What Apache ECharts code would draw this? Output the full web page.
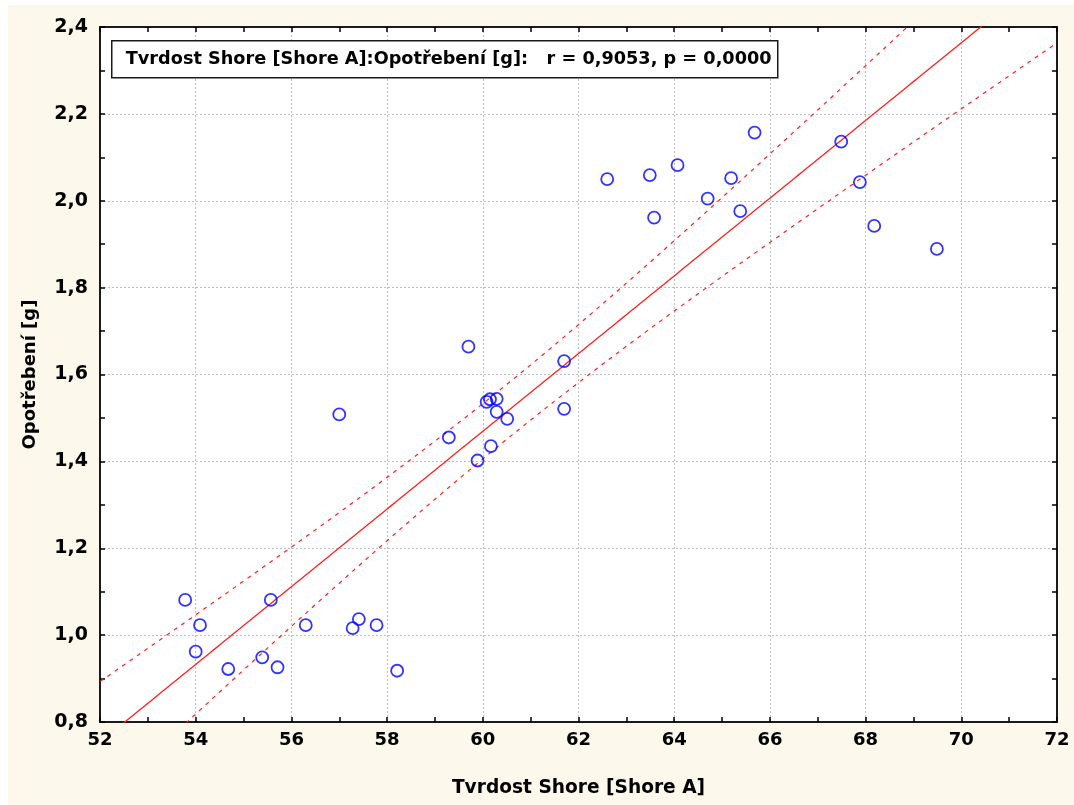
<!DOCTYPE html>
<html>
<head>
<meta charset="utf-8">
<script src="https://cdn.jsdelivr.net/npm/echarts@6/dist/echarts.min.js"></script>
<style>
  html, body { margin: 0; padding: 0; background: #ffffff; }
  #panel { position: absolute; left: 8px; top: 5px; right: 0; bottom: 0; background: #fdf8ec; }
  #chart { position: absolute; left: 0; top: 0; width: 1074px; height: 805px; }
</style>
</head>
<body>
<div id="panel"></div>
<div id="chart"></div>
<script>
// Shore A hardness vs. abrasion wear of the tested samples
const hardness = [53.78, 54.09, 54.00, 54.68, 55.57, 55.39, 55.71, 56.30, 57.28, 57.41, 57.78, 58.21,
                  57.00, 59.29, 59.70, 59.89, 60.08, 60.15, 60.29, 60.29, 60.51, 60.17, 61.70, 61.70,
                  62.60, 63.49, 63.58, 64.07, 64.70, 65.19, 65.38, 65.68, 67.49, 67.88, 68.18, 69.49];
const wear     = [1.081, 1.023, 0.962, 0.922, 1.081, 0.949, 0.926, 1.023, 1.016, 1.037, 1.023, 0.918,
                  1.508, 1.455, 1.664, 1.402, 1.537, 1.543, 1.544, 1.514, 1.498, 1.435, 1.631, 1.521,
                  2.050, 2.059, 1.961, 2.082, 2.005, 2.052, 1.976, 2.157, 2.136, 2.043, 1.942, 1.889];

const xTitle = 'Tvrdost Shore [Shore A]';
const yTitle = 'Opotřebení [g]';
const statText = 'Tvrdost Shore [Shore A]:Opotřebení [g]:   r = 0,9053, p = 0,0000';
const xRange = [52, 72];
const yRange = [0.8, 2.4];
const tCrit = 2.032; // Student t, 0.975 quantile, 34 degrees of freedom

// least-squares fit and 95% confidence band of the regression line
const n = hardness.length;
const mx = hardness.reduce((a, b) => a + b, 0) / n;
const my = wear.reduce((a, b) => a + b, 0) / n;
let sxx = 0, sxy = 0;
for (let i = 0; i < n; i++) {
  sxx += (hardness[i] - mx) ** 2;
  sxy += (hardness[i] - mx) * (wear[i] - my);
}
const slope = sxy / sxx;
const intercept = my - slope * mx;
let sse = 0;
for (let i = 0; i < n; i++) sse += (wear[i] - intercept - slope * hardness[i]) ** 2;
const se = Math.sqrt(sse / (n - 2));

const fitLine = [], upperBand = [], lowerBand = [];
for (let x = xRange[0]; x <= xRange[1] + 1e-9; x += 0.1) {
  const yh = intercept + slope * x;
  const h = tCrit * se * Math.sqrt(1 / n + (x - mx) ** 2 / sxx);
  fitLine.push([x, yh]);
  upperBand.push([x, yh + h]);
  lowerBand.push([x, yh - h]);
}
const points = hardness.map((x, i) => [x, wear[i]]);

const font = '"DejaVu Sans", Verdana, sans-serif';
const fmtDec = v => v.toFixed(1).replace('.', ',');

const chart = echarts.init(document.getElementById('chart'), null, { renderer: 'canvas' });

const tickCommon = { show: true, inside: true, length: 5, lineStyle: { color: '#000', width: 1.5 } };
const minorCommon = { show: true, splitNumber: 2, length: 5, lineStyle: { color: '#000', width: 1.5 } };

chart.setOption({
  animation: false,
  backgroundColor: 'transparent',
  grid: { left: 100, top: 27, right: 17, bottom: 83, show: true, backgroundColor: '#ffffff', borderWidth: 0 },
  xAxis: [{
    type: 'value', min: xRange[0], max: xRange[1], interval: 2,
    name: xTitle, nameLocation: 'middle', nameGap: 57,
    nameTextStyle: { fontFamily: font, fontWeight: 'bold', fontSize: 18.6, color: '#000' },
    axisLine: { show: true, onZero: false, lineStyle: { color: '#1a1a1a', width: 2 } },
    axisTick: tickCommon, minorTick: minorCommon,
    axisLabel: { fontFamily: font, fontWeight: 'bold', fontSize: 18, color: '#000', margin: 9 },
    splitLine: { show: true, lineStyle: { color: '#bdbdbd', type: [2, 2], width: 1 } }
  }, {
    type: 'value', min: xRange[0], max: xRange[1], interval: 2, position: 'top',
    axisLine: { show: true, onZero: false, lineStyle: { color: '#1a1a1a', width: 2 } },
    axisTick: tickCommon, minorTick: minorCommon,
    axisLabel: { show: false }, splitLine: { show: false }
  }],
  yAxis: [{
    type: 'value', min: yRange[0], max: yRange[1], interval: 0.2,
    name: yTitle, nameLocation: 'middle', nameGap: 61, nameRotate: 90,
    nameTextStyle: { fontFamily: font, fontWeight: 'bold', fontSize: 18, color: '#000' },
    axisLine: { show: true, onZero: false, lineStyle: { color: '#1a1a1a', width: 2 } },
    axisTick: tickCommon, minorTick: minorCommon,
    axisLabel: { fontFamily: font, fontWeight: 'bold', fontSize: 19, color: '#000', margin: 12, formatter: fmtDec },
    splitLine: { show: true, lineStyle: { color: '#bdbdbd', type: [2, 2], width: 1 } }
  }, {
    type: 'value', min: yRange[0], max: yRange[1], interval: 0.2, position: 'right',
    axisLine: { show: true, onZero: false, lineStyle: { color: '#1a1a1a', width: 2 } },
    axisTick: tickCommon, minorTick: minorCommon,
    axisLabel: { show: false }, splitLine: { show: false }
  }],
  series: [
    {
      type: 'line', data: upperBand, showSymbol: false, clip: true, silent: true,
      lineStyle: { color: '#ff2020', width: 1.2, type: [4, 5] }
    },
    {
      type: 'line', data: lowerBand, showSymbol: false, clip: true, silent: true,
      lineStyle: { color: '#ff2020', width: 1.2, type: [4, 5] }
    },
    {
      type: 'line', data: fitLine, showSymbol: false, clip: true, silent: true,
      lineStyle: { color: '#ff2020', width: 1.3 }
    },
    {
      type: 'scatter', data: points, symbol: 'circle', symbolSize: 12, z: 5,
      itemStyle: { color: 'rgba(255,255,255,0)', borderColor: '#0000ff', borderWidth: 1.8 }
    }
  ],
  graphic: [{
    type: 'group', left: 111, top: 40, z: 100, zlevel: 1,
    children: [
      { type: 'rect', shape: { x: 0, y: 0, width: 666, height: 37 }, z: 100, zlevel: 1,
        style: { fill: '#ffffff', stroke: '#1a1a1a', lineWidth: 1.5 } },
      { type: 'text', x: 14, y: 19, z: 101, zlevel: 1,
        style: { text: statText, fill: '#000', font: 'bold 17.7px ' + font, textVerticalAlign: 'middle', verticalAlign: 'middle' } }
    ]
  }]
});
</script>
</body>
</html>
